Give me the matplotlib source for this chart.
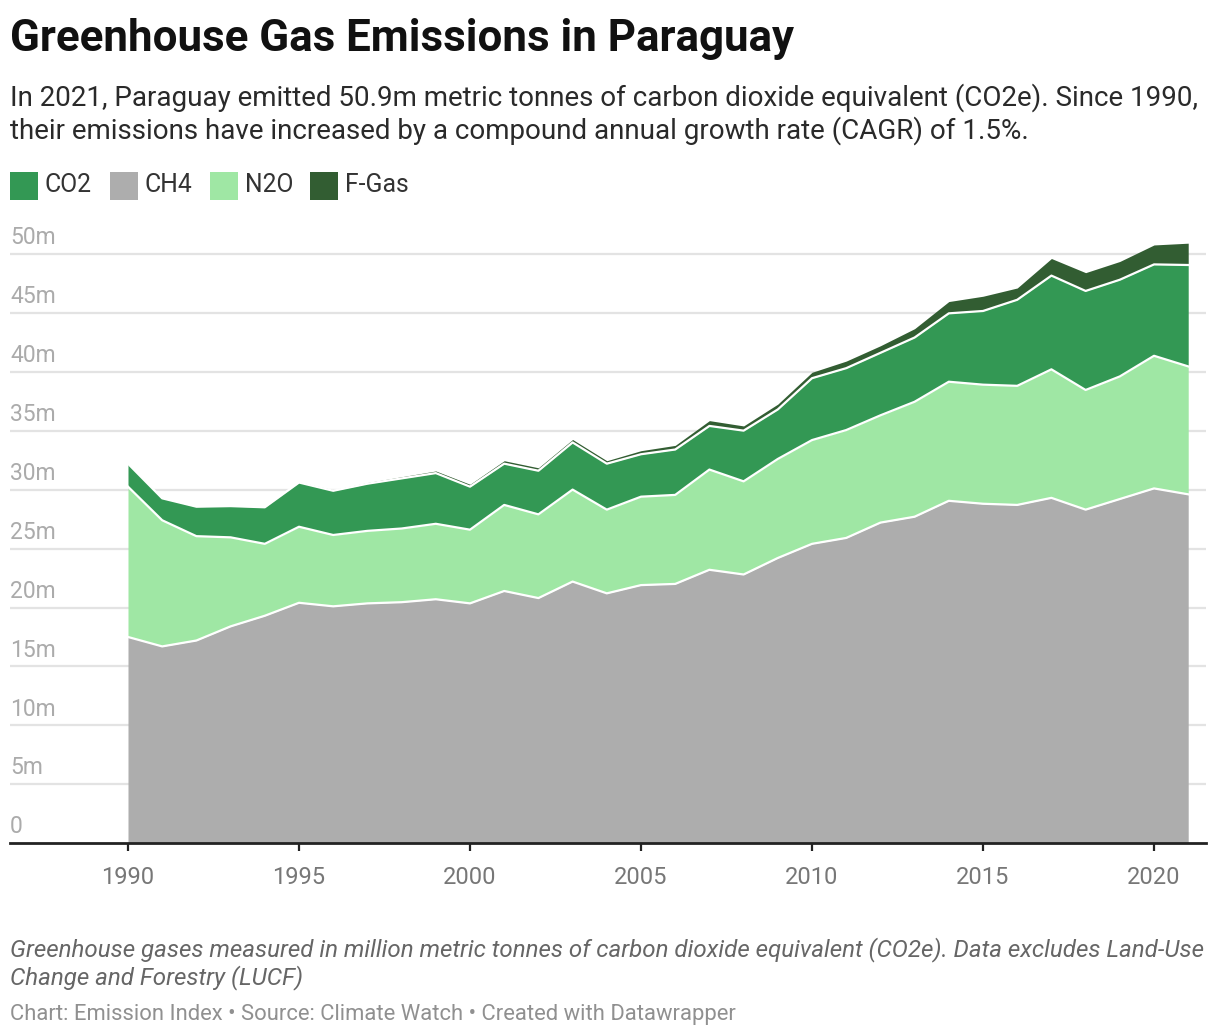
import numpy as np
import matplotlib
matplotlib.use("Agg")
from matplotlib import pyplot as plt
from matplotlib import transforms

years = list(range(1990, 2022))

# million tonnes CO2e
ch4 = [17.5, 16.7, 17.2, 18.4, 19.3, 20.4, 20.1, 20.35, 20.45, 20.7, 20.35, 21.4, 20.8, 22.2, 21.2, 21.9,
       22.0, 23.2, 22.8, 24.2, 25.4, 25.9, 27.2, 27.7, 29.05, 28.8, 28.7, 29.3, 28.3, 29.2, 30.1, 29.6]
n2o = [12.75, 10.7, 8.85, 7.55, 6.1, 6.45, 6.05, 6.15, 6.25, 6.4, 6.25, 7.3, 7.1, 7.8, 7.1, 7.5,
       7.55, 8.5, 7.9, 8.4, 8.8, 9.15, 9.1, 9.75, 10.1, 10.1, 10.1, 10.9, 10.15, 10.4, 11.25, 10.85]
co2 = [1.95, 1.86, 2.5, 2.65, 3.1, 3.75, 3.75, 4.0, 4.25, 4.3, 3.65, 3.5, 3.7, 4.0, 3.9, 3.6,
       3.85, 3.7, 4.3, 4.2, 5.25, 5.25, 5.3, 5.45, 5.8, 6.25, 7.3, 7.95, 8.4, 8.2, 7.75, 8.6]
fgas = [0.02, 0.03, 0.05, 0.05, 0.05, 0.06, 0.08, 0.1, 0.14, 0.18, 0.2, 0.25, 0.25, 0.25, 0.25, 0.3,
        0.35, 0.45, 0.4, 0.45, 0.5, 0.6, 0.6, 0.75, 1.0, 1.25, 1.0, 1.45, 1.55, 1.55, 1.65, 1.85]

labels = ["CO2", "CH4", "N2O", "F-Gas"]
colors = {"CO2": "#339854", "CH4": "#adadad", "N2O": "#9fe7a4", "F-Gas": "#325d32"}

y_ticks = [0, 5, 10, 15, 20, 25, 30, 35, 40, 45, 50]
y_tick_labels = ["0", "5m", "10m", "15m", "20m", "25m", "30m", "35m", "40m", "45m", "50m"]
x_ticks = [1990, 1995, 2000, 2005, 2010, 2015, 2020]

plt.rcParams['font.family'] = ['Roboto', 'DejaVu Sans']

W, H = 1220, 1036
fig = plt.figure(figsize=(W / 100, H / 100), dpi=100)
ax = fig.add_axes([10 / W, (H - 843.3) / H, 1196 / W, 52 * 11.79 / H])

# stack order from bottom: CH4, N2O, CO2, F-Gas
layers = [("CH4", ch4), ("N2O", n2o), ("CO2", co2), ("F-Gas", fgas)]
base = np.zeros(len(years))
for name, vals in layers:
    top = base + np.array(vals)
    ax.fill_between(years, base, top, color=colors[name], lw=0, zorder=2)
    base = top
base = np.zeros(len(years))
for name, vals in layers[:3]:
    base = base + np.array(vals)
    ax.plot(years, base, color="white", lw=1.6, zorder=3, solid_joinstyle="round")

ax.set_xlim(1986.55, 2021.52)
ax.set_ylim(0, 52)
for s in ax.spines.values():
    s.set_visible(False)
ax.spines["bottom"].set_visible(True)
ax.spines["bottom"].set_linewidth(2)
ax.spines["bottom"].set_color("#222222")
ax.spines["bottom"].set_zorder(5)

ax.set_yticks([])
for t in y_ticks[1:]:
    ax.axhline(t, color="#e3e3e3", lw=1.6, zorder=1)
trans = transforms.blended_transform_factory(ax.transAxes, ax.transData)
for t, lab in zip(y_ticks, y_tick_labels):
    ax.annotate(lab, (0, t), xycoords=trans, xytext=(0, 3.5), textcoords="offset points",
                ha="left", va="bottom", fontsize=16.5, color="#ababab")

ax.set_xticks(x_ticks)
ax.set_xticklabels([str(x) for x in x_ticks])
ax.tick_params(axis="x", length=6, width=1.6, color="#222222", labelsize=17,
               labelcolor="#777777", pad=10)

def fy(px):
    return 1 - px / H

fig.text(10 / W, fy(51), "Greenhouse Gas Emissions in Paraguay", fontsize=31.6, fontweight="bold",
         color="#111111", va="baseline", ha="left")
fig.text(10 / W, fy(106), "In 2021, Paraguay emitted 50.9m metric tonnes of carbon dioxide equivalent (CO2e). Since 1990,",
         fontsize=20, color="#2a2a2a", va="baseline", ha="left")
fig.text(10 / W, fy(139), "their emissions have increased by a compound annual growth rate (CAGR) of 1.5%.",
         fontsize=20, color="#2a2a2a", va="baseline", ha="left")

leg_x = [10, 110, 210, 310]
for name, lx in zip(labels, leg_x):
    fig.patches.append(plt.Rectangle((lx / W, fy(200)), 28 / W, 28 / H, transform=fig.transFigure,
                                     color=colors[name], lw=0))
    fig.text((lx + 35) / W, fy(192.5), name, fontsize=17.8, color="#333333", va="baseline", ha="left")

fig.text(10 / W, fy(956), "Greenhouse gases measured in million metric tonnes of carbon dioxide equivalent (CO2e). Data excludes Land-Use",
         fontsize=17.4, style="italic", color="#666666", va="baseline", ha="left")
fig.text(10 / W, fy(984), "Change and Forestry (LUCF)",
         fontsize=17.4, style="italic", color="#666666", va="baseline", ha="left")
fig.text(10 / W, fy(1020), "Chart: Emission Index \u2022 Source: Climate Watch \u2022 Created with Datawrapper",
         fontsize=15.8, color="#909090", va="baseline", ha="left")

fig.savefig("out.png", dpi=100)
